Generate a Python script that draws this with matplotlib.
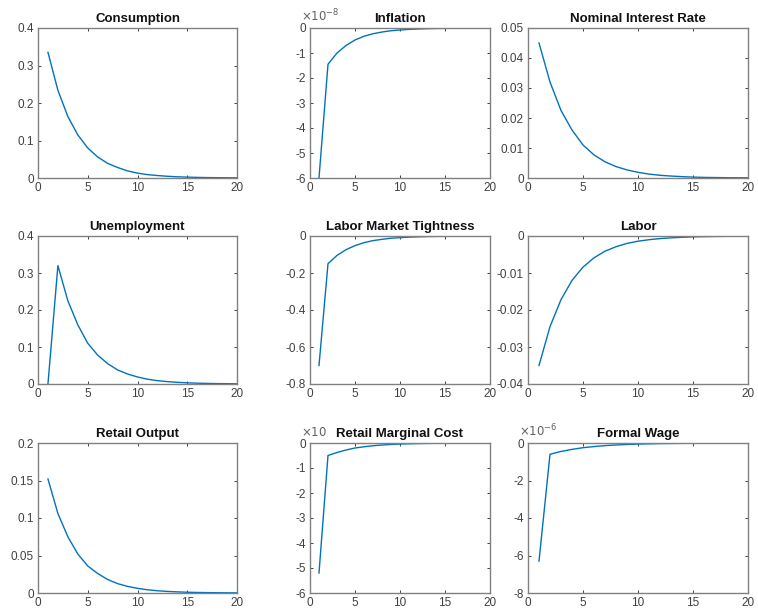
import matplotlib
matplotlib.use("Agg")
import matplotlib.pyplot as plt

plt.rcParams['font.family'] = ['Liberation Sans', 'DejaVu Sans']

t = list(range(1, 21))

# Impulse responses
consumption = [0.335, 0.234, 0.164, 0.115, 0.080, 0.056, 0.039, 0.028, 0.019, 0.013,
               0.009, 0.0066, 0.0046, 0.0032, 0.0023, 0.0016, 0.0011, 0.0008, 0.0005, 0.0004]
inflation = [-6.0, -1.45, -1.0, -0.70, -0.48, -0.33, -0.23, -0.16, -0.11, -0.08,
             -0.055, -0.038, -0.027, -0.019, -0.013, -0.009, -0.006, -0.004, -0.003, -0.002]  # x1e-8
interest = [0.045, 0.032, 0.0225, 0.016, 0.011, 0.0077, 0.0054, 0.0038, 0.0027, 0.0019,
            0.0013, 0.0009, 0.00065, 0.00045, 0.0003, 0.0002, 0.00015, 0.0001, 0.00007, 0.00005]
unemployment = [0.0, 0.32, 0.225, 0.16, 0.11, 0.078, 0.055, 0.038, 0.027, 0.019,
                0.013, 0.009, 0.0065, 0.0045, 0.0032, 0.0022, 0.0016, 0.0011, 0.0008, 0.0005]
tightness = [-0.70, -0.15, -0.105, -0.074, -0.052, -0.036, -0.025, -0.018, -0.012, -0.009,
             -0.006, -0.0043, -0.003, -0.0021, -0.0015, -0.001, -0.0007, -0.0005, -0.0004, -0.0003]
labor = [-0.035, -0.0245, -0.0172, -0.012, -0.0084, -0.0059, -0.0041, -0.0029, -0.002, -0.0014,
         -0.001, -0.0007, -0.0005, -0.00035, -0.00024, -0.00017, -0.00012, -0.00008, -0.00006, -0.00004]
retail_output = [0.152, 0.106, 0.075, 0.052, 0.036, 0.026, 0.018, 0.0125, 0.0088, 0.0062,
                 0.0043, 0.003, 0.0021, 0.0015, 0.001, 0.0007, 0.0005, 0.00035, 0.00025, 0.00018]
marginal_cost = [-5.2, -0.5, -0.38, -0.28, -0.2, -0.15, -0.11, -0.08, -0.058, -0.042,
                 -0.03, -0.022, -0.016, -0.012, -0.008, -0.006, -0.0045, -0.0032, -0.0023, -0.0017]
formal_wage = [-6.3, -0.6, -0.45, -0.34, -0.25, -0.19, -0.14, -0.105, -0.078, -0.058,
               -0.043, -0.032, -0.024, -0.018, -0.013, -0.01, -0.0073, -0.0054, -0.004, -0.003]  # x1e-6

titles = ["Consumption", "Inflation", "Nominal Interest Rate",
          "Unemployment", "Labor Market Tightness", "Labor",
          "Retail Output", "Retail Marginal Cost", "Formal Wage"]
series = [consumption, inflation, interest, unemployment, tightness, labor,
          retail_output, marginal_cost, formal_wage]
yticks = [[0, 0.1, 0.2, 0.3, 0.4], [-6, -5, -4, -3, -2, -1, 0], [0, 0.01, 0.02, 0.03, 0.04, 0.05],
          [0, 0.1, 0.2, 0.3, 0.4], [-0.8, -0.6, -0.4, -0.2, 0], [-0.04, -0.03, -0.02, -0.01, 0],
          [0, 0.05, 0.1, 0.15, 0.2], [-6, -5, -4, -3, -2, -1, 0], [-8, -6, -4, -2, 0]]
ytick_labels = [["0", "0.1", "0.2", "0.3", "0.4"], ["-6", "-5", "-4", "-3", "-2", "-1", "0"],
                ["0", "0.01", "0.02", "0.03", "0.04", "0.05"],
                ["0", "0.1", "0.2", "0.3", "0.4"], ["-0.8", "-0.6", "-0.4", "-0.2", "0"],
                ["-0.04", "-0.03", "-0.02", "-0.01", "0"],
                ["0", "0.05", "0.1", "0.15", "0.2"], ["-6", "-5", "-4", "-3", "-2", "-1", "0"],
                ["-8", "-6", "-4", "-2", "0"]]
multipliers = [None, "$\\times10^{-8}$", None, None, None, None, None, "$\\times10$", "$\\times10^{-6}$"]

W, H = 758, 612
lefts = [38, 310, 528]
rights = [237, 490, 748]
tops = [28, 236, 443]
bottoms = [178, 384, 593]

fig = plt.figure(figsize=(W / 100, H / 100), dpi=100)
grey = "#404040"
for i in range(9):
    r, c = divmod(i, 3)
    w_px = rights[c] - lefts[c]
    h_px = bottoms[r] - tops[r]
    ax = fig.add_axes([lefts[c] / W, 1 - bottoms[r] / H, w_px / W, h_px / H])
    ax.plot(t, series[i], color="#0072BD", lw=1.0)
    ax.set_xlim(0, 20)
    ax.set_xticks([0, 5, 10, 15, 20])
    ax.set_yticks(yticks[i])
    ax.set_yticklabels(ytick_labels[i])
    ax.set_ylim(yticks[i][0], yticks[i][-1])
    ax.tick_params(direction="in", length=2.5, width=0.7, top=True, right=True,
                   labelsize=8.5, colors=grey, pad=3)
    for s in ax.spines.values():
        s.set_color("#808080")
        s.set_linewidth(1.0)
    ax.set_title(titles[i], fontsize=9.5, fontweight="bold", color="#111111", pad=4)
    if multipliers[i]:
        ax.text(-9 / w_px, 1 + 4 / h_px, multipliers[i], transform=ax.transAxes,
                fontsize=8.5, color="#606060", ha="left", va="bottom", zorder=0)

fig.savefig("out.png", dpi=100)
